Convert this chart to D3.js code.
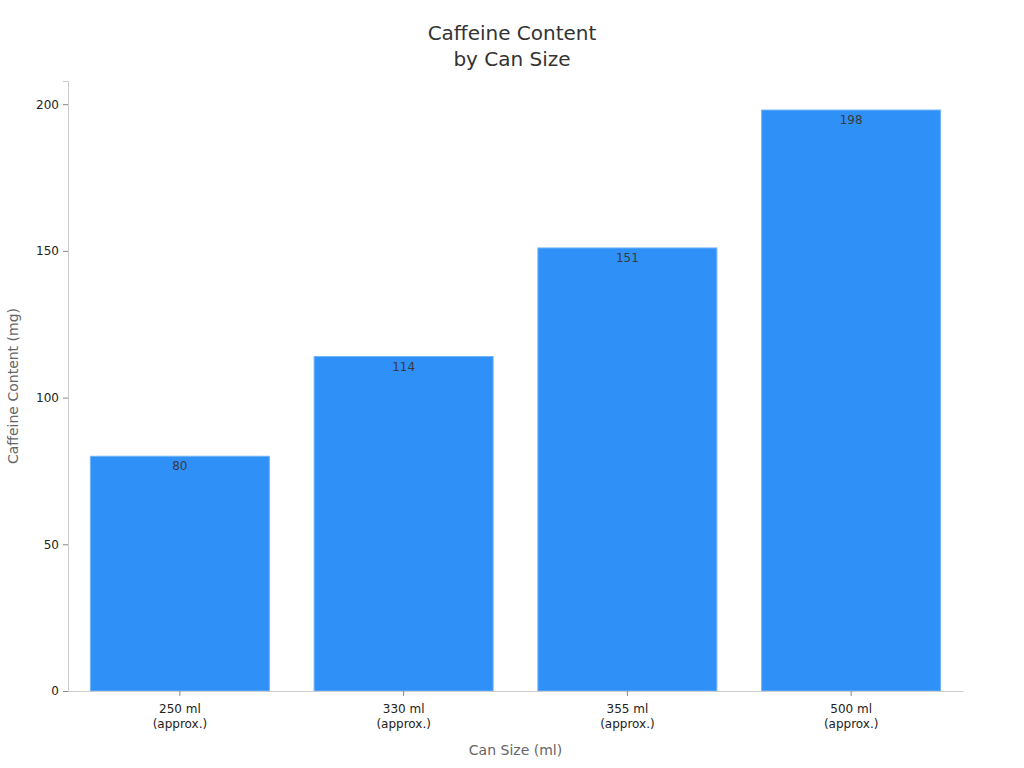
<!DOCTYPE html>
<html>
<head>
<meta charset="utf-8">
<script src="https://cdn.jsdelivr.net/npm/d3@7"></script>
<style>
  body { margin: 0; background: #fff; }
  text { font-family: "DejaVu Sans", sans-serif; }
</style>
</head>
<body>
<svg id="chart" width="1024" height="768"></svg>
<script>
// data
const canSizes = ["250 ml\n(approx.)", "330 ml\n(approx.)", "355 ml\n(approx.)", "500 ml\n(approx.)"];
const caffeine = [80, 114, 151, 198];
const yTicks = [0, 50, 100, 150, 200];

const svg = d3.select("#chart");
const margin = { top: 81, right: 61, bottom: 77, left: 68 };
const width = 1024 - margin.left - margin.right;
const height = 768 - margin.top - margin.bottom;

const rows = canSizes.map((c, i) => ({ size: c, value: caffeine[i] }));

const x = d3.scaleBand().domain(canSizes).range([0, width]).paddingInner(0.2).paddingOuter(0.1);
const y = d3.scaleLinear().domain([0, d3.max(caffeine) * 1.05]).range([height, 0]);

const g = svg.append("g").attr("transform", `translate(${margin.left},${margin.top})`);

// bars
g.selectAll(".bar")
  .data(rows)
  .enter()
  .append("rect")
  .attr("class", "bar")
  .attr("x", d => x(d.size))
  .attr("y", d => y(d.value))
  .attr("width", x.bandwidth())
  .attr("height", d => height - y(d.value))
  .style("fill", "#2f91f8")
  .style("stroke", "#6fb3fb")
  .style("stroke-width", 1);

// value labels just inside the top of each bar
g.selectAll(".val")
  .data(rows)
  .enter()
  .append("text")
  .attr("class", "val")
  .attr("x", d => x(d.size) + x.bandwidth() / 2)
  .attr("y", d => y(d.value) + 14)
  .attr("text-anchor", "middle")
  .style("font-size", "12px")
  .style("fill", "#3a3a3a")
  .text(d => d.value);

// y axis
const yAxis = g.append("g").call(d3.axisLeft(y).tickValues(yTicks).tickSize(5).tickPadding(4));
yAxis.select(".domain").attr("stroke", "#ccc");
yAxis.selectAll(".tick line").attr("stroke", "#888");
yAxis.selectAll(".tick text").style("font-size", "12px").style("fill", "#222")
  .style("font-family", "DejaVu Sans, sans-serif");

// x axis
const xAxis = g.append("g").attr("transform", `translate(0,${height})`)
  .call(d3.axisBottom(x).tickSize(5).tickPadding(8).tickSizeOuter(0));
xAxis.select(".domain").attr("stroke", "#ccc");
xAxis.selectAll(".tick line").attr("stroke", "#888");
xAxis.selectAll(".tick text")
  .style("font-size", "12px").style("fill", "#222")
  .style("font-family", "DejaVu Sans, sans-serif")
  .each(function (d) {
    const t = d3.select(this);
    const parts = d.split("\n");
    t.text(null);
    parts.forEach((p, i) => {
      t.append("tspan").attr("x", 0).attr("dy", i === 0 ? "0.71em" : "1.3em").text(p);
    });
  });

// axis titles
svg.append("text")
  .attr("x", margin.left + width / 2)
  .attr("y", 755)
  .attr("text-anchor", "middle")
  .style("font-size", "14px")
  .style("fill", "#666")
  .text("Can Size (ml)");

svg.append("text")
  .attr("transform", `translate(18,${margin.top + height / 2}) rotate(-90)`)
  .attr("text-anchor", "middle")
  .style("font-size", "14px")
  .style("fill", "#666")
  .text("Caffeine Content (mg)");

// title
const title = svg.append("text")
  .attr("x", 512)
  .attr("y", 40)
  .attr("text-anchor", "middle")
  .style("font-size", "20px")
  .style("fill", "#333");
title.append("tspan").attr("x", 512).text("Caffeine Content");
title.append("tspan").attr("x", 512).attr("dy", 26).text("by Can Size");
</script>
</body>
</html>
